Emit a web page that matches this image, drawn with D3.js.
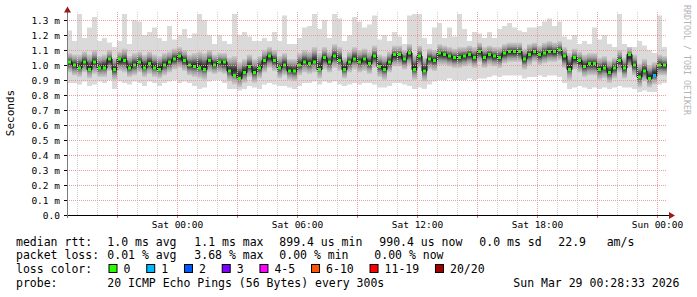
<!DOCTYPE html>
<html>
<head>
<meta charset="utf-8">
<script src="https://cdn.jsdelivr.net/npm/d3@7"></script>
<style>
  body { margin: 0; background: #fff; }
  svg { display: block; }
  text { font-family: "DejaVu Sans Mono", monospace; }
</style>
</head>
<body>
<div id="chart"></div>
<script>
// 15 minute steps, Fri 18:30 UTC .. Sun 00:30 UTC (values in ms)
var median = [1.02,1.00,0.98,1.02,0.97,1.02,0.98,0.98,1.04,0.97,
  1.04,1.03,0.98,1.00,1.02,0.98,1.01,0.98,0.97,1.00,
  1.02,1.04,1.06,1.03,1.00,0.99,0.98,0.97,1.03,1.00,
  1.02,1.02,0.96,0.93,0.91,0.95,0.99,0.95,0.98,1.03,
  1.06,1.03,0.98,1.00,0.96,0.96,1.00,1.02,1.01,1.02,
  0.97,1.05,1.02,1.06,1.03,0.97,1.02,1.04,1.02,1.04,
  1.01,1.06,0.99,0.97,1.02,1.07,1.07,1.04,1.08,0.97,
  1.06,0.96,1.04,1.03,1.08,1.07,1.06,1.05,1.05,1.06,
  1.07,1.05,1.09,1.05,1.07,1.06,1.05,1.08,1.09,1.09,
  1.09,1.04,1.07,1.09,1.07,1.08,1.09,1.09,1.10,1.06,
  0.97,1.05,1.03,0.99,1.01,1.01,0.97,0.98,0.95,0.98,
  1.03,0.98,1.07,1.00,0.92,0.96,0.91,0.93,1.00,1.00];

var smokeMax = [1.23,1.16,1.34,1.18,1.25,1.32,1.16,1.18,1.15,1.12,
  1.16,1.34,1.14,1.30,1.29,1.20,1.22,1.25,1.18,1.16,
  1.26,1.17,1.20,1.24,1.18,1.21,1.34,1.30,1.20,1.14,
  1.20,1.16,1.14,1.34,1.20,1.22,1.19,1.16,1.16,1.18,
  1.16,1.22,1.16,1.33,1.14,1.14,1.18,1.25,1.26,1.34,
  1.24,1.30,1.18,1.34,1.31,1.16,1.20,1.32,1.29,1.25,
  1.27,1.33,1.17,1.20,1.16,1.22,1.19,1.14,1.33,1.34,
  1.34,1.18,1.14,1.25,1.28,1.18,1.25,1.19,1.34,1.24,
  1.16,1.22,1.21,1.18,1.22,1.18,1.24,1.26,1.28,1.25,
  1.23,1.22,1.25,1.25,1.26,1.29,1.31,1.26,1.29,1.19,
  1.17,1.20,1.14,1.16,1.14,1.25,1.17,1.20,1.14,1.12,
  1.34,1.14,1.12,1.12,1.16,1.13,1.10,1.08,1.33,1.12];

var smokeMin = [0.88,0.88,0.87,0.89,0.86,0.87,0.89,0.88,0.90,0.84,
  0.89,0.88,0.87,0.89,0.88,0.86,0.89,0.88,0.86,0.88,
  0.89,0.90,0.88,0.89,0.88,0.86,0.84,0.85,0.89,0.90,
  0.90,0.88,0.84,0.84,0.83,0.84,0.86,0.85,0.84,0.87,
  0.88,0.87,0.86,0.86,0.85,0.84,0.86,0.88,0.88,0.89,
  0.87,0.89,0.88,0.89,0.87,0.86,0.87,0.88,0.87,0.88,
  0.88,0.87,0.85,0.85,0.86,0.88,0.88,0.87,0.86,0.84,
  0.85,0.84,0.87,0.89,0.90,0.90,0.91,0.90,0.90,0.90,
  0.91,0.90,0.91,0.91,0.92,0.93,0.92,0.93,0.93,0.93,
  0.93,0.91,0.92,0.92,0.93,0.92,0.93,0.93,0.92,0.88,
  0.84,0.85,0.86,0.85,0.84,0.85,0.84,0.85,0.84,0.85,
  0.86,0.85,0.85,0.84,0.82,0.83,0.82,0.82,0.87,0.88];

var coreHi = [1.08,1.07,1.07,1.09,1.07,1.10,1.06,1.07,1.10,1.05,
  1.09,1.11,1.06,1.08,1.09,1.07,1.09,1.07,1.06,1.08,
  1.09,1.11,1.12,1.10,1.07,1.08,1.09,1.08,1.10,1.07,
  1.08,1.08,1.05,1.06,1.02,1.04,1.07,1.04,1.06,1.10,
  1.12,1.10,1.06,1.08,1.04,1.04,1.08,1.10,1.09,1.12,
  1.08,1.12,1.09,1.14,1.12,1.05,1.09,1.12,1.10,1.11,
  1.09,1.13,1.07,1.06,1.09,1.13,1.13,1.10,1.14,1.07,
  1.13,1.05,1.11,1.10,1.14,1.13,1.12,1.11,1.12,1.12,
  1.13,1.12,1.15,1.12,1.13,1.12,1.12,1.14,1.15,1.15,
  1.15,1.11,1.14,1.15,1.13,1.15,1.16,1.15,1.16,1.12,
  1.08,1.11,1.09,1.07,1.08,1.08,1.05,1.06,1.03,1.05,
  1.10,1.05,1.12,1.07,1.01,1.04,1.00,1.02,1.07,1.06];

var coreLo = [0.95,0.93,0.92,0.95,0.91,0.94,0.92,0.92,0.96,0.90,
  0.96,0.95,0.92,0.93,0.95,0.92,0.94,0.92,0.91,0.93,
  0.95,0.97,0.98,0.96,0.93,0.92,0.91,0.90,0.95,0.94,
  0.95,0.94,0.89,0.87,0.85,0.88,0.92,0.88,0.91,0.95,
  0.98,0.96,0.91,0.93,0.90,0.89,0.93,0.95,0.94,0.95,
  0.91,0.97,0.95,0.98,0.96,0.91,0.95,0.97,0.95,0.96,
  0.94,0.98,0.92,0.90,0.95,0.99,0.99,0.97,1.00,0.90,
  0.98,0.89,0.97,0.96,1.00,1.00,0.99,0.98,0.98,0.99,
  1.00,0.98,1.02,0.98,1.00,0.99,0.98,1.01,1.02,1.02,
  1.02,0.97,1.00,1.02,1.00,1.01,1.02,1.02,1.03,0.98,
  0.90,0.97,0.95,0.92,0.93,0.93,0.90,0.91,0.88,0.91,
  0.95,0.91,0.98,0.93,0.85,0.89,0.85,0.87,0.93,0.93];

// lost pings per step (out of 20)
var loss = new Array(120).fill(0);
loss[117] = 1;

var lossLabels = ["0", "1", "2", "3", "4-5", "6-10", "11-19", "20/20"];
var lossLimits = [0, 1, 2, 3, 5, 10, 19, 20];
var lossColors = ["#26ff00", "#00b8ff", "#0059ff", "#7e00ff", "#ff00ff", "#ff5500", "#ff0000", "#a10000"];

var yTicks = [0, 0.1, 0.2, 0.3, 0.4, 0.5, 0.6, 0.7, 0.8, 0.9, 1.0, 1.1, 1.2, 1.3];

var rttStats = ["1.0 ms avg", "1.1 ms max", "899.4 us min", "990.4 us now", "0.0 ms sd", "22.9", "am/s"];
var lossStats = ["0.01 % avg", "3.68 % max", "0.00 % min", "0.00 % now"];
var probeText = "20 ICMP Echo Pings (56 Bytes) every 300s";
var stampText = "Sun Mar 29 00:28:33 2026";

var chartW = 697, chartH = 297;
var plotL = 67, plotR = 667, plotT = 12, plotB = 215;

var t0 = new Date(Date.UTC(2026, 2, 27, 18, 30));
var t1 = new Date(Date.UTC(2026, 2, 29, 0, 30));
var stepMs = 15 * 60 * 1000;
var times = median.map(function(d, i) { return new Date(t0.getTime() + i * stepMs); });

var x = d3.scaleUtc().domain([t0, t1]).range([plotL, plotR]);
var y = d3.scaleLinear().domain([0, 1.3]).range([plotB, 20]);

var svg = d3.select('#chart').append('svg')
  .attr('width', chartW).attr('height', chartH);

svg.append('rect').attr('width', chartW).attr('height', chartH).attr('fill', '#fff');

var defs = svg.append('defs');
defs.append('clipPath').attr('id', 'plotclip')
  .append('rect').attr('x', plotL).attr('y', plotT).attr('width', plotR - plotL).attr('height', plotB - plotT);

//smoke shading, darkest in the middle of the core band
var grad = defs.append('linearGradient').attr('id', 'core')
  .attr('x1', 0).attr('y1', 0).attr('x2', 0).attr('y2', 1);
[[0, '#cdcdcd'], [0.22, '#9c9c9c'], [0.4, '#4e4e4e'], [0.5, '#2c2c2c'],
 [0.6, '#4e4e4e'], [0.78, '#9c9c9c'], [1, '#cdcdcd']].forEach(function(s) {
  grad.append('stop').attr('offset', s[0]).attr('stop-color', s[1]);
});

var plot = svg.append('g').attr('clip-path', 'url(#plotclip)');

function stepW(i) {
  return x(new Date(times[i].getTime() + stepMs)) - x(times[i]);
}

// smoke: outer envelope
plot.selectAll('rect.outer')
  .data(median)
  .enter()
  .append('rect')
  .attr('class', 'outer')
  .attr('x', function(d, i) { return x(times[i]); })
  .attr('width', function(d, i) { return stepW(i); })
  .attr('y', function(d, i) { return y(smokeMax[i]); })
  .attr('height', function(d, i) { return y(smokeMin[i]) - y(smokeMax[i]); })
  .attr('fill', '#dadada');

// smoke: dense core
plot.selectAll('rect.core')
  .data(median)
  .enter()
  .append('rect')
  .attr('class', 'core')
  .attr('x', function(d, i) { return x(times[i]); })
  .attr('width', function(d, i) { return stepW(i); })
  .attr('y', function(d, i) { return y(coreHi[i]); })
  .attr('height', function(d, i) { return y(coreLo[i]) - y(coreHi[i]); })
  .attr('fill', 'url(#core)');

// grid
var grid = svg.append('g');
x.ticks(d3.utcHour.every(1)).forEach(function(t) {
  var major = t.getUTCHours() % 3 === 0;
  grid.append('line')
    .attr('x1', x(t) + 0.5).attr('x2', x(t) + 0.5)
    .attr('y1', plotT).attr('y2', plotB)
    .attr('stroke', major ? '#eb9c9c' : '#cfcfcf')
    .attr('stroke-dasharray', '1,1');
  if (major) {
    grid.append('line')
      .attr('x1', x(t) + 0.5).attr('x2', x(t) + 0.5)
      .attr('y1', plotB).attr('y2', plotB + 3)
      .attr('stroke', '#e07070');
  }
});
yTicks.forEach(function(v) {
  if (v === 0) return;
  grid.append('line')
    .attr('x1', plotL).attr('x2', plotR)
    .attr('y1', Math.round(y(v)) + 0.5).attr('y2', Math.round(y(v)) + 0.5)
    .attr('stroke', '#eb9c9c')
    .attr('stroke-dasharray', '1,1');
});

// median line
var medLine = d3.line()
  .x(function(d) { return x(d[0]); })
  .y(function(d) { return y(d[1]); })
  .curve(d3.curveStepAfter);
var medPts = median.map(function(d, i) { return [times[i], d]; });
medPts.push([t1, median[median.length - 1]]);
plot.append('path')
  .attr('d', medLine(medPts))
  .attr('fill', 'none')
  .attr('stroke', '#111')
  .attr('stroke-width', 1);

function lossColor(l) {
  for (var k = 0; k < lossLimits.length; k++) {
    if (l <= lossLimits[k]) return lossColors[k];
  }
  return lossColors[lossColors.length - 1];
}

plot.selectAll('rect.med')
  .data(median)
  .enter()
  .append('rect')
  .attr('class', 'med')
  .attr('x', function(d, i) { return x(times[i]) + 1; })
  .attr('width', function(d, i) { return stepW(i) - 2; })
  .attr('y', function(d) { return y(d) - 1.5; })
  .attr('height', 3)
  .attr('fill', function(d, i) { return lossColor(loss[i]); });

// axes
svg.append('line')
  .attr('x1', 64).attr('x2', 670)
  .attr('y1', plotB + 0.5).attr('y2', plotB + 0.5)
  .attr('stroke', '#000');
svg.append('line')
  .attr('x1', plotL + 0.5).attr('x2', plotL + 0.5)
  .attr('y1', plotB + 3).attr('y2', 10)
  .attr('stroke', '#7a7a7a');
svg.append('path')
  .attr('d', 'M' + (plotL - 3) + ',12.5L' + (plotL + 0.5) + ',6.5L' + (plotL + 4) + ',12.5Z')
  .attr('fill', '#9a1a1a');
svg.append('path')
  .attr('d', 'M669,' + (plotB - 3) + 'L675,' + (plotB + 0.5) + 'L669,' + (plotB + 4) + 'Z')
  .attr('fill', '#9a1a1a');

// y labels
yTicks.forEach(function(v) {
  svg.append('line')
    .attr('x1', plotL - 3).attr('x2', plotL)
    .attr('y1', Math.round(y(v)) + 0.5).attr('y2', Math.round(y(v)) + 0.5)
    .attr('stroke', '#000');
  svg.append('text')
    .attr('x', 60).attr('y', y(v) + 3.5)
    .attr('text-anchor', 'end')
    .attr('font-size', '9.5px')
    .attr('fill', '#000')
    .text(v === 0 ? '0.0' : v.toFixed(1) + ' m');
});

// x labels
var fmt = d3.utcFormat('%a %H:%M');
x.ticks(d3.utcHour.every(6)).forEach(function(t) {
  svg.append('text')
    .attr('x', x(t) + 0.5).attr('y', 228)
    .attr('text-anchor', 'middle')
    .attr('font-size', '9.5px')
    .text(fmt(t));
});

svg.append('text')
  .attr('transform', 'translate(14,113) rotate(-90)')
  .attr('text-anchor', 'middle')
  .attr('font-size', '11px')
  .text('Seconds');

svg.append('text')
  .attr('transform', 'translate(684,5) rotate(90)')
  .attr('font-size', '8.3px')
  .attr('fill', '#b4b4b4')
  .text('RRDTOOL / TOBI OETIKER');

// legend
var lg = svg.append('g').attr('font-size', '11.5px').attr('fill', '#000');
var rowY = [245.5, 259, 273, 286.7];
var rttX = [107.3, 194.3, 279.3, 379.3, 479.3, 558.3, 606.7];
var lossX = [107.3, 194.3, 279.3, 374.3];

lg.append('text').attr('x', 16).attr('y', rowY[0]).text('median rtt:');
rttStats.forEach(function(s, i) {
  lg.append('text').attr('x', rttX[i]).attr('y', rowY[0]).text(s);
});
lg.append('text').attr('x', 16).attr('y', rowY[1]).text('packet loss:');
lossStats.forEach(function(s, i) {
  lg.append('text').attr('x', lossX[i]).attr('y', rowY[1]).text(s);
});
lg.append('text').attr('x', 16).attr('y', rowY[2]).text('loss color:');
var cx = 108.5;
lossLabels.forEach(function(l, i) {
  lg.append('rect')
    .attr('x', cx + 0.5).attr('y', 264.5)
    .attr('width', 8).attr('height', 8)
    .attr('fill', lossColors[i])
    .attr('stroke', '#000');
  var t = lg.append('text').attr('x', cx + 15).attr('y', rowY[2]).text(l);
  cx = cx + 15 + t.node().getComputedTextLength() + 15.8;
});
lg.append('text').attr('x', 16).attr('y', rowY[3]).text('probe:');
lg.append('text').attr('x', 107.3).attr('y', rowY[3]).text(probeText);
lg.append('text').attr('x', 513.3).attr('y', rowY[3]).text(stampText);
</script>
</body>
</html>
